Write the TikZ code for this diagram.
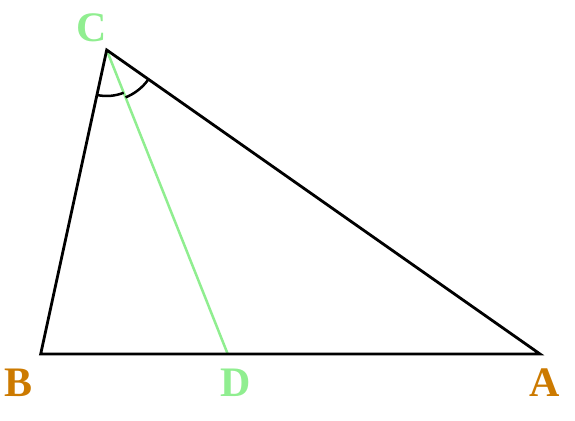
\documentclass[tikz,border=0pt]{standalone}
\usepackage{fontspec}
\setmainfont{Liberation Serif}
\usetikzlibrary{angles}
\definecolor{lgreen}{RGB}{144,238,144}
\definecolor{ochre}{RGB}{204,122,0}
\begin{document}
\begin{tikzpicture}[x=1pt,y=1pt,
  seg/.style={line width=2.8pt, black, line join=miter},
  bis/.style={line width=2.5pt, lgreen},
  lab/.style={inner sep=0pt, font=\fontsize{42}{42}\selectfont\bfseries},
  arcmark/.style={draw, line width=2.5pt}]
\useasboundingbox (0,0) rectangle (575,420);
\coordinate (C) at (106.7,370);
\coordinate (B) at (40.7,66);
\coordinate (D) at (227.7,66);
\coordinate (A) at (540,66);
\draw[bis] (C) -- (D);
\draw[seg] (B) -- (A) -- (C) -- cycle;
\pic[arcmark, angle radius=46pt] {angle = B--C--D};
\pic[arcmark, angle radius=51pt] {angle = D--C--A};
\node[lab, text=lgreen] (lC) at (91.7,392) {C};
\node[lab, text=ochre] (lB) at (18.7,37.5) {B};
\node[lab, text=lgreen] (lD) at (235.8,37.5) {D};
\node[lab, text=ochre] (lA) at (544.7,37) {A};
\end{tikzpicture}
\end{document}
